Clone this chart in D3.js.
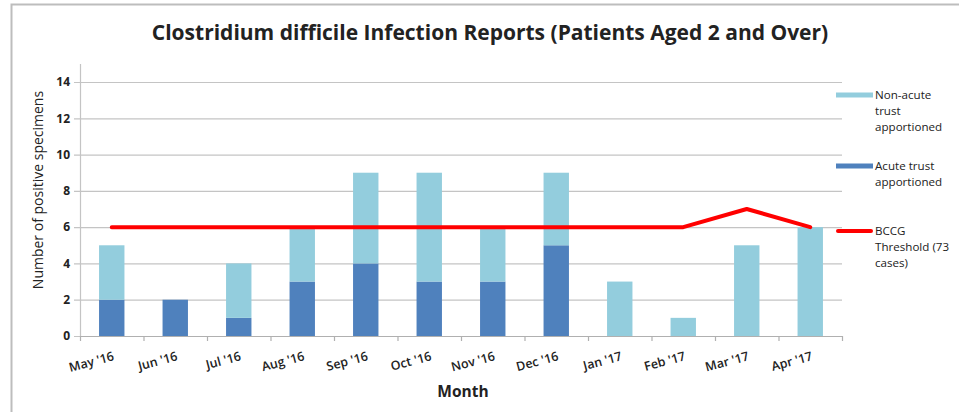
<!DOCTYPE html>
<html>
<head>
<meta charset="utf-8">
<script src="https://cdn.jsdelivr.net/npm/d3@7"></script>
<style>
  html, body { margin: 0; padding: 0; background: #fff; }
  svg { display: block; }
  text { font-family: "Open Sans", "Noto Sans", sans-serif; fill: #222; }
</style>
</head>
<body>
<svg id="chart" width="959" height="412"></svg>
<script>
// Monthly positive specimens, May 2016 – Apr 2017
const months = ["May '16", "Jun '16", "Jul '16", "Aug '16", "Sep '16", "Oct '16",
                "Nov '16", "Dec '16", "Jan '17", "Feb '17", "Mar '17", "Apr '17"];
const acute    = [2, 2, 1, 3, 4, 3, 3, 5, 0, 0, 0, 0];
const nonAcute = [3, 0, 3, 3, 5, 6, 3, 4, 3, 1, 5, 6];
const threshold = [6, 6, 6, 6, 6, 6, 6, 6, 6, 6, 7, 6];
const yTicks = [0, 2, 4, 6, 8, 10, 12, 14];

const colors = { nonAcute: "#93CDDD", acute: "#4F81BD", threshold: "#FF0000" };

const svg = d3.select("#chart");
const W = 959, H = 412;
const plot = { left: 80, right: 842, top: 82, bottom: 336 };

// outer chart border
svg.append("rect")
  .attr("x", 11.5).attr("y", 4.5)
  .attr("width", W + 20).attr("height", H + 20)
  .attr("fill", "none").attr("stroke", "#bdbdbd").attr("stroke-width", 2);

const x = d3.scaleBand().domain(months).range([plot.left, plot.right]).paddingInner(0.6).paddingOuter(0.3);
const y = d3.scaleLinear().domain([0, 14]).range([plot.bottom, plot.top]);

// horizontal gridlines with small left tick marks
svg.append("g")
  .selectAll("line").data(yTicks).join("line")
  .attr("x1", plot.left - 6).attr("x2", plot.right)
  .attr("y1", d => y(d) + 0.5).attr("y2", d => y(d) + 0.5)
  .attr("stroke", "#c4c4c4").attr("stroke-width", 1.2);

// y axis labels
const yAxis = d3.axisLeft(y).tickValues(yTicks).tickSize(0).tickPadding(10);
const gy = svg.append("g").attr("transform", `translate(${plot.left},0)`).call(yAxis);
gy.select(".domain").remove();
gy.selectAll("text")
  .style("font-family", "'Open Sans', sans-serif")
  .style("font-size", "12px").style("font-weight", "bold").attr("fill", "#222");

// y axis line
svg.append("line")
  .attr("x1", plot.left + 0.5).attr("x2", plot.left + 0.5)
  .attr("y1", 64).attr("y2", plot.bottom)
  .attr("stroke", "#c4c4c4").attr("stroke-width", 1.2);

// stacked bars
const stackData = months.map((m, i) => ({ month: m, acute: acute[i], nonAcute: nonAcute[i] }));
const series = d3.stack().keys(["acute", "nonAcute"])(stackData);
svg.append("g").selectAll("g").data(series).join("g")
  .attr("fill", d => colors[d.key])
  .selectAll("rect").data(d => d).join("rect")
  .attr("x", d => x(d.data.month))
  .attr("width", x.bandwidth())
  .attr("y", d => y(d[1]))
  .attr("height", d => y(d[0]) - y(d[1]));

// x axis with ticks between categories
const xTickPos = d3.range(months.length + 1).map(i => plot.left + i * (plot.right - plot.left) / months.length);
svg.append("line")
  .attr("x1", plot.left).attr("x2", plot.right)
  .attr("y1", plot.bottom + 0.5).attr("y2", plot.bottom + 0.5)
  .attr("stroke", "#b0b0b0").attr("stroke-width", 1.2);
svg.append("g").selectAll("line").data(xTickPos).join("line")
  .attr("x1", d => d + 0.5).attr("x2", d => d + 0.5)
  .attr("y1", plot.bottom).attr("y2", plot.bottom + 5)
  .attr("stroke", "#b0b0b0").attr("stroke-width", 1.2);

// rotated month labels
svg.append("g").selectAll("text").data(months).join("text")
  .attr("transform", d => `translate(${x(d) + x.bandwidth() / 2 + 3},${plot.bottom + 24}) rotate(-15)`)
  .attr("text-anchor", "end")
  .style("font-size", "12.5px").style("font-weight", "600")
  .attr("fill", "#333")
  .text(d => d);

// threshold line
const line = d3.line()
  .x((d, i) => x(months[i]) + x.bandwidth() / 2)
  .y(d => y(d));
svg.append("path").datum(threshold)
  .attr("d", line)
  .attr("fill", "none").attr("stroke", colors.threshold)
  .attr("stroke-width", 4).attr("stroke-linecap", "round").attr("stroke-linejoin", "round");

// titles
svg.append("text")
  .attr("x", 490).attr("y", 40).attr("text-anchor", "middle")
  .style("font-size", "21px").style("font-weight", "bold").attr("fill", "#111")
  .text("Clostridium difficile Infection Reports (Patients Aged 2 and Over)");

svg.append("text")
  .attr("x", 463).attr("y", 397).attr("text-anchor", "middle")
  .style("font-size", "15.5px").style("font-weight", "bold").attr("fill", "#111")
  .text("Month");

svg.append("text")
  .attr("transform", `translate(43,190) rotate(-90)`)
  .attr("text-anchor", "middle")
  .style("font-size", "14px").attr("fill", "#222")
  .text("Number of positive specimens");

// legend
const legend = [
  { color: colors.nonAcute, y: 95, h: 5, lines: ["Non-acute", "trust", "apportioned"] },
  { color: colors.acute, y: 166, h: 5, lines: ["Acute trust", "apportioned"] },
  { color: colors.threshold, y: 231, h: 4, lines: ["BCCG", "Threshold (73", "cases)"] }
];
const lg = svg.append("g").selectAll("g").data(legend).join("g");
lg.append("rect")
  .attr("x", 836).attr("y", d => d.y - d.h / 2)
  .attr("width", 37).attr("height", d => d.h)
  .attr("rx", d => d.color === colors.threshold ? 2 : 0)
  .attr("fill", d => d.color);
lg.each(function (d) {
  d3.select(this).selectAll("text").data(d.lines).join("text")
    .attr("x", 875).attr("y", (t, i) => d.y + 4 + i * 16)
    .style("font-size", "11.6px").attr("fill", "#222")
    .text(t => t);
});
</script>
</body>
</html>
